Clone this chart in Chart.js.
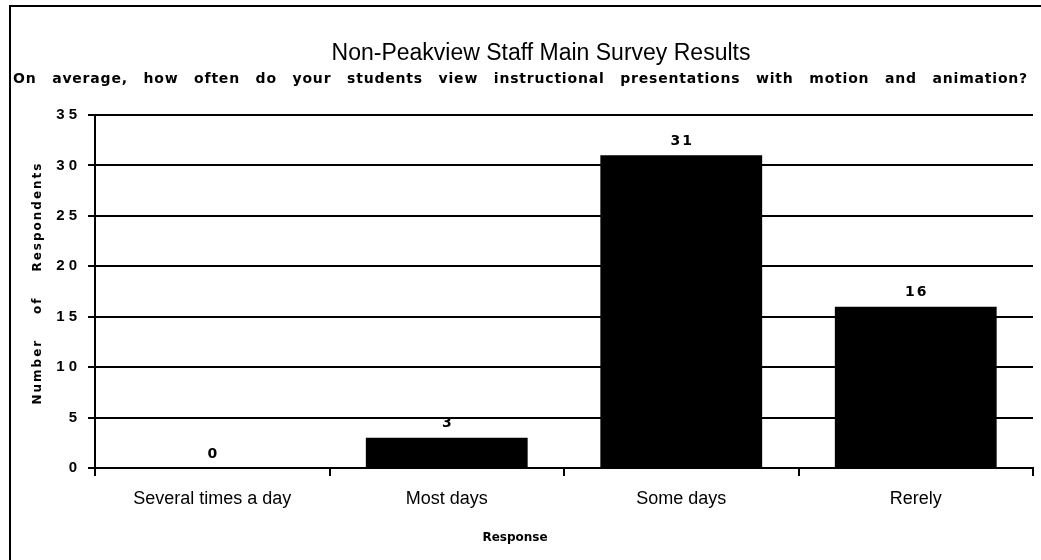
<!DOCTYPE html>
<html>
<head>
<meta charset="utf-8">
<script src="https://cdn.jsdelivr.net/npm/chart.js@4.4.1/dist/chart.umd.min.js"></script>
<style>
  html, body { margin: 0; padding: 0; background: #ffffff; }
  #wrap { width: 1041px; height: 560px; position: relative; }
</style>
</head>
<body>
<div id="wrap"><canvas id="c" width="1041" height="560"></canvas></div>
<script>
// ---- data ----
const categories = ['Several times a day', 'Most days', 'Some days', 'Rerely'];
const respondents = [0, 3, 31, 16];
const yMin = 0;
const yMax = 35;
const yStep = 5;

// ---- texts ----
const chartTitle = 'Non-Peakview Staff Main Survey Results';
const chartSubtitle = 'On average, how often do your students view instructional presentations with motion and animation?';
const xAxisTitle = 'Response';
const yAxisTitle = 'Number of Respondents';

const FONT = '"Liberation Sans", Arial, Helvetica, sans-serif';
const HEAVY = '"DejaVu Sans", "Liberation Sans", Arial, sans-serif';

function setSpacing(ctx, px) {
  if ('letterSpacing' in ctx) ctx.letterSpacing = px + 'px';
}

function drawJustified(ctx, text, cx, cy, width, spacing) {
  setSpacing(ctx, spacing);
  const words = text.split(' ');
  const ws = words.map(w => ctx.measureText(w).width);
  const total = ws.reduce((a, b) => a + b, 0);
  const gap = words.length > 1 ? (width - total) / (words.length - 1) : 0;
  let x = cx - width / 2;
  ctx.textAlign = 'left';
  ctx.textBaseline = 'middle';
  words.forEach((w, i) => { ctx.fillText(w, x, cy); x += ws[i] + gap; });
  setSpacing(ctx, 0);
}

const decorPlugin = {
  id: 'decor',
  beforeDraw(chart) {
    const ctx = chart.ctx;
    ctx.save();
    ctx.fillStyle = '#ffffff';
    ctx.fillRect(0, 0, chart.width, chart.height);
    // scanned frame
    ctx.strokeStyle = '#000000';
    ctx.lineWidth = 2;
    ctx.beginPath();
    ctx.moveTo(10, 560);
    ctx.lineTo(10, 6);
    ctx.lineTo(1041, 6);
    ctx.stroke();
    ctx.restore();
  },
  afterDraw(chart) {
    const ctx = chart.ctx;
    ctx.save();
    ctx.fillStyle = '#000000';

    // subtitle (justified, bold)
    ctx.font = 'bold 14px ' + HEAVY;
    drawJustified(ctx, chartSubtitle, 520.5, 79, 1015, 0.8);

    // y axis title (rotated, letter-spaced)
    ctx.save();
    ctx.translate(38, 283);
    ctx.rotate(-Math.PI / 2);
    ctx.font = 'bold 12px ' + HEAVY;
    drawJustified(ctx, yAxisTitle, 0, 0, 243, 2);
    ctx.restore();

    // x axis title
    ctx.font = 'bold 12px ' + HEAVY;
    ctx.textAlign = 'center';
    ctx.textBaseline = 'middle';
    ctx.fillText(xAxisTitle, 515, 538);

    // value labels above bars
    ctx.font = 'bold 14px ' + HEAVY;
    setSpacing(ctx, 2);
    const meta = chart.getDatasetMeta(0);
    meta.data.forEach((bar, i) => {
      ctx.fillText(String(respondents[i]), bar.x + 1, bar.y - 14);
    });
    setSpacing(ctx, 0);
    ctx.restore();
  }
};

new Chart(document.getElementById('c'), {
  type: 'bar',
  data: {
    labels: categories,
    datasets: [{
      data: respondents,
      backgroundColor: '#000000',
      borderWidth: 0,
      barPercentage: 0.69,
      categoryPercentage: 1.0
    }]
  },
  options: {
    responsive: false,
    animation: false,
    events: [],
    layout: { padding: { left: 49, right: 8, top: 0, bottom: 0 } },
    plugins: {
      legend: { display: false },
      tooltip: { enabled: false },
      title: {
        display: true,
        text: chartTitle,
        color: '#000000',
        font: { family: FONT, size: 23, weight: 'normal' },
        padding: { top: 40.2, bottom: 47.2 }
      }
    },
    scales: {
      x: {
        offset: true,
        grid: {
          display: true,
          offset: true,
          drawOnChartArea: false,
          drawTicks: true,
          tickLength: 8,
          color: '#000000',
          lineWidth: 2
        },
        border: { display: true, color: '#000000', width: 2 },
        ticks: {
          color: '#000000',
          font: { family: FONT, size: 18, weight: 'normal' },
          padding: 12,
          maxRotation: 0,
          autoSkip: false
        },
        afterFit(scale) { scale.height = 92; }
      },
      y: {
        min: yMin,
        max: yMax,
        grid: {
          color: '#000000',
          lineWidth: 2,
          drawTicks: true,
          tickLength: 7
        },
        border: { display: true, color: '#000000', width: 2 },
        ticks: {
          stepSize: yStep,
          color: '#000000',
          padding: 11,
          font: { family: FONT, size: 15, weight: 'bold' },
          callback: (v) => String(v).split('').join(' ')
        },
        afterFit(scale) { scale.width = 46; }
      }
    }
  },
  plugins: [decorPlugin]
});
</script>
</body>
</html>
